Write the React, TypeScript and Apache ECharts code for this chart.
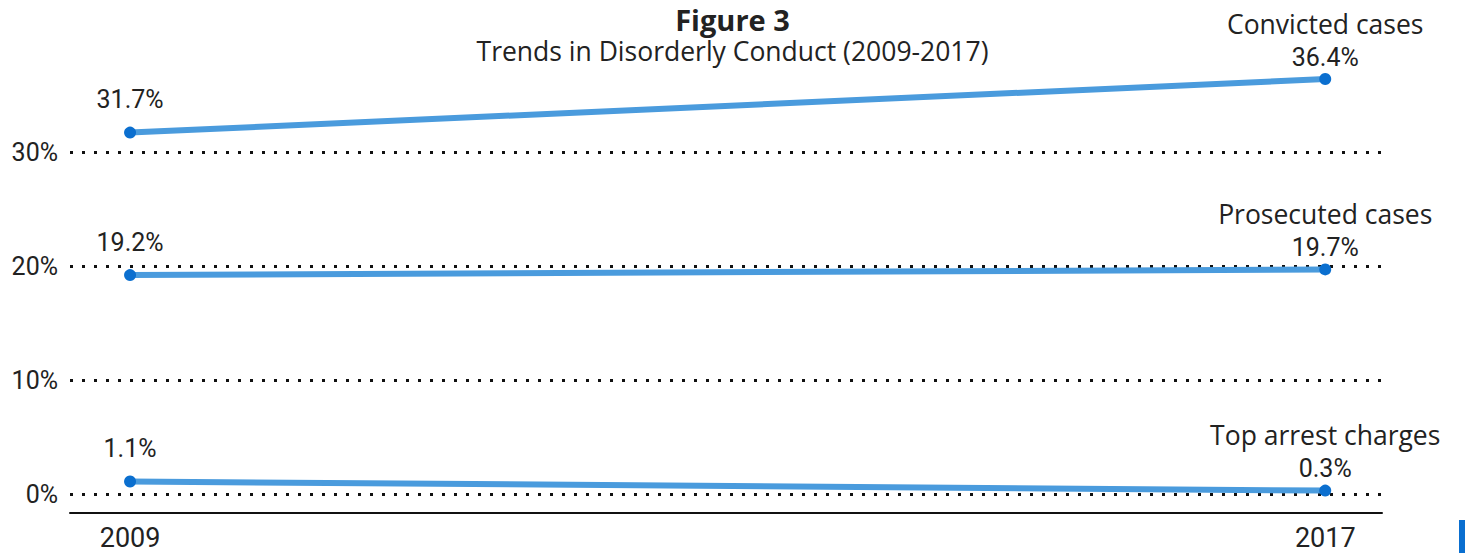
import React, { useEffect, useRef } from "react";
import * as echarts from "echarts";

// Percentages for the first and last year of each series
const years = [2009, 2017];
const seriesNames = ["Convicted cases", "Prosecuted cases", "Top arrest charges"];
const convicted = [31.7, 36.4];
const prosecuted = [19.2, 19.7];
const topArrest = [1.1, 0.3];
const yTicks = [0, 10, 20, 30];

const TEXT = "#222222";
const LINE = "#4a9bdd";
const DOT = "#0b6fcf";
const NUM_FONT = "Roboto, sans-serif";
const LABEL_FONT = "'Open Sans', sans-serif";

function buildSeries(name: string, values: number[]) {
  const data = values.map((v, i) => {
    const isLast = i === values.length - 1;
    return {
      value: [years[i], v],
      label: {
        show: true,
        position: "top",
        distance: isLast ? 1 : 12,
        align: "center",
        formatter: isLast ? `{name|${name}}\n{val|${v}%}` : `{val|${v}%}`,
        rich: {
          name: {
            fontFamily: LABEL_FONT,
            fontSize: 26.5,
            color: TEXT,
            lineHeight: 37,
          },
          val: {
            fontFamily: NUM_FONT,
            fontSize: 25,
            color: TEXT,
            lineHeight: 30,
          },
        },
      },
    };
  });
  return {
    name,
    type: "line",
    data,
    symbol: "circle",
    symbolSize: 12,
    itemStyle: { color: DOT },
    lineStyle: { color: LINE, width: 6 },
    z: 5,
  };
}

export default function App() {
  const ref = useRef<HTMLDivElement>(null);

  useEffect(() => {
    if (!ref.current) return;
    const chart = echarts.init(ref.current, null, { renderer: "svg" });
    chart.setOption({
      animation: false,
      backgroundColor: "#ffffff",
      title: [
        {
          text: "Figure 3",
          left: "center",
          top: 0,
          padding: [5, 5, 0, 5],
          textStyle: {
            fontFamily: LABEL_FONT,
            fontWeight: "bold",
            fontSize: 29,
            lineHeight: 29,
            color: TEXT,
          },
        },
        {
          text: "Trends in Disorderly Conduct (2009-2017)",
          left: "center",
          top: 38,
          padding: 0,
          textStyle: {
            fontFamily: LABEL_FONT,
            fontWeight: "normal",
            fontSize: 26.5,
            lineHeight: 26,
            color: TEXT,
          },
        },
      ],
      grid: { left: 70, right: 83, top: 38, bottom: 59 },
      xAxis: {
        type: "value",
        min: 2008.598,
        max: 2017.38,
        offset: 19,
        splitLine: { show: false },
        axisTick: { show: false },
        axisLine: {
          show: true,
          onZero: false,
          lineStyle: { color: "#111111", width: 2 },
        },
        axisLabel: {
          customValues: years,
          formatter: (v: number) => String(v),
          fontFamily: NUM_FONT,
          fontSize: 27,
          lineHeight: 26,
          color: TEXT,
          margin: 12,
        },
      },
      yAxis: {
        type: "value",
        min: 0,
        max: 40,
        interval: 10,
        axisLine: { show: false },
        axisTick: { show: false },
        axisLabel: {
          customValues: yTicks,
          formatter: (v: number) => `${v}%`,
          fontFamily: NUM_FONT,
          fontSize: 25,
          color: TEXT,
          margin: 12,
        },
        splitLine: {
          show: true,
          showMaxLine: false,
          lineStyle: { color: "#111111", width: 3, type: [3, 9] },
        },
      },
      series: [
        buildSeries(seriesNames[0], convicted),
        buildSeries(seriesNames[1], prosecuted),
        buildSeries(seriesNames[2], topArrest),
      ],
      graphic: [
        {
          type: "rect",
          right: 0,
          bottom: 0,
          shape: { width: 6, height: 33 },
          style: { fill: "#0a6fd0" },
        },
      ],
    });
    return () => chart.dispose();
  }, []);

  return (
    <div
      ref={ref}
      style={{ position: "fixed", left: 0, top: 0, width: 1465, height: 553 }}
    />
  );
}
